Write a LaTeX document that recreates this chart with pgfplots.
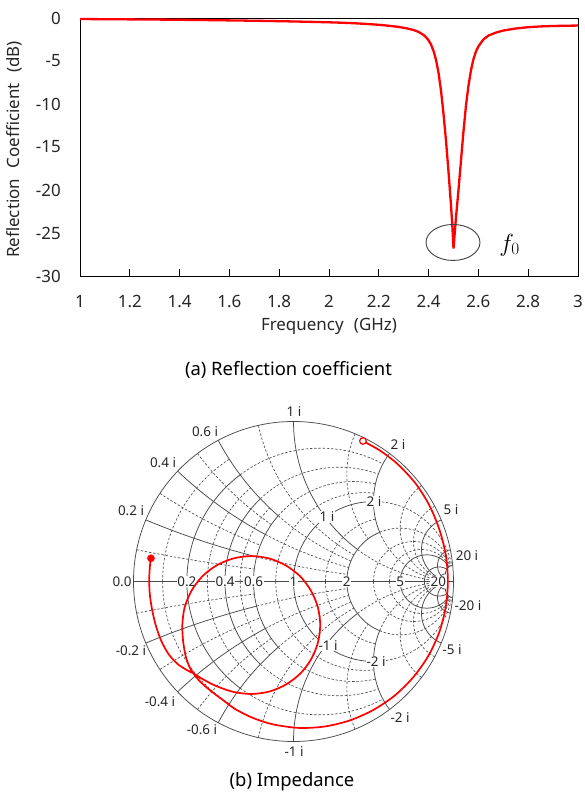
\documentclass[border=0pt]{standalone}
\usepackage{pgfplots}
\pgfplotsset{compat=1.18}
\usepackage{fontspec}
\setmainfont{Noto Sans}
\definecolor{txtc}{HTML}{262626}
\definecolor{gridc}{HTML}{4A4A4A}
\tikzset{
  declare function={thR(\a,\b)=180-2*atan(\b/(1+\a)); phX(\a,\b)=-90-2*atan(\a/(1+\b));},
  sld/.style={draw=gridc, line width=0.75bp},
  dsh/.style={draw=gridc, line width=0.65bp, dash pattern=on 2.4bp off 1.8bp},
}
% resistance circle r=#2, from reactance #3 to #4 (both signs)
\newcommand\rarc[4][]{%
  \draw[#1] plot[variable=\t,domain=0:1,samples=36]
   ({(#2+cos(thR(#2,#3)+\t*(thR(#2,#4)-thR(#2,#3))))/(1+#2)},
    {sin(thR(#2,#3)+\t*(thR(#2,#4)-thR(#2,#3)))/(1+#2)});
  \draw[#1] plot[variable=\t,domain=0:1,samples=36]
   ({(#2+cos(thR(#2,#3)+\t*(thR(#2,#4)-thR(#2,#3))))/(1+#2)},
    {-sin(thR(#2,#3)+\t*(thR(#2,#4)-thR(#2,#3)))/(1+#2)});
}
% reactance arc x=#2 (and -#2), from resistance #3 to #4
\newcommand\xarc[4][]{%
  \draw[#1] plot[variable=\t,domain=0:1,samples=36]
   ({1+cos(phX(#2,#3)+\t*(phX(#2,#4)-phX(#2,#3)))/#2},
    {(1+sin(phX(#2,#3)+\t*(phX(#2,#4)-phX(#2,#3))))/#2});
  \draw[#1] plot[variable=\t,domain=0:1,samples=36]
   ({1+cos(phX(#2,#3)+\t*(phX(#2,#4)-phX(#2,#3)))/#2},
    {-(1+sin(phX(#2,#3)+\t*(phX(#2,#4)-phX(#2,#3))))/#2});
}
\newcommand\smf{\fontsize{13.5}{15}\selectfont}
\newcommand\bigf{\fontsize{17}{20}\selectfont}

\pgfplotstableread{
f dB
1.00 -0.12
1.10 -0.14
1.20 -0.16
1.30 -0.18
1.40 -0.21
1.50 -0.24
1.60 -0.28
1.70 -0.32
1.80 -0.37
1.90 -0.43
2.00 -0.50
2.05 -0.55
2.10 -0.61
2.15 -0.69
2.20 -0.79
2.25 -0.93
2.28 -1.04
2.31 -1.19
2.34 -1.40
2.36 -1.62
2.38 -1.98
2.39 -2.25
2.40 -2.60
2.41 -3.10
2.42 -3.85
2.43 -4.90
2.44 -6.40
2.45 -8.50
2.46 -11.2
2.47 -14.3
2.48 -17.9
2.49 -21.8
2.495 -24.0
2.50 -26.8
2.505 -25.0
2.51 -23.2
2.52 -20.0
2.53 -16.6
2.54 -13.2
2.55 -10.2
2.56 -7.9
2.57 -6.1
2.58 -4.8
2.59 -3.9
2.60 -3.3
2.62 -2.5
2.64 -2.05
2.67 -1.70
2.70 -1.46
2.75 -1.22
2.80 -1.07
2.85 -0.98
2.90 -0.93
2.95 -0.90
3.00 -0.88
}\refltable

\pgfplotstableread{
gr gi
-0.891 0.145
-0.896 0.110
-0.900 0.060
-0.902 0.000
-0.898 -0.080
-0.885 -0.170
-0.862 -0.270
-0.827 -0.370
-0.780 -0.455
-0.725 -0.515
-0.668 -0.553
-0.626 -0.574
-0.568 -0.610
-0.484 -0.653
-0.376 -0.690
-0.264 -0.703
-0.152 -0.688
-0.049 -0.645
0.041 -0.577
0.109 -0.488
0.152 -0.384
0.167 -0.272
0.152 -0.160
0.109 -0.057
0.041 0.033
-0.049 0.101
-0.152 0.144
-0.264 0.159
-0.376 0.144
-0.480 0.101
-0.569 0.033
-0.637 -0.057
-0.680 -0.160
-0.695 -0.272
-0.690 -0.372
-0.675 -0.462
-0.652 -0.530
-0.626 -0.574
-0.595 -0.613
-0.555 -0.652
-0.505 -0.693
-0.445 -0.738
-0.360 -0.800
-0.248 -0.855
-0.127 -0.893
0.030 -0.915
0.190 -0.907
0.347 -0.870
0.495 -0.805
0.630 -0.715
0.746 -0.601
0.841 -0.468
0.910 -0.320
0.951 -0.162
0.965 0.000
0.952 0.163
0.913 0.321
0.850 0.474
0.762 0.614
0.648 0.736
0.541 0.818
0.434 0.878
}\smithtable

\begin{document}
\begin{tikzpicture}
\path[use as bounding box] (0,0) rectangle (585bp,803bp);

% ---------------- top: reflection coefficient ----------------
\begin{axis}[
  at={(80bp,527bp)}, anchor=south west,
  scale only axis, width=498bp, height=258bp,
  xmin=1, xmax=3, ymin=-30, ymax=0,
  xtick={1,1.2,1.4,1.6,1.8,2,2.2,2.4,2.6,2.8,3},
  xticklabels={1,1.2,1.4,1.6,1.8,2,2.2,2.4,2.6,2.8,3},
  ytick={-30,-25,-20,-15,-10,-5,0},
  yticklabels={-30,-25,-20,-15,-10,-5,0},
  xtick pos=lower, ytick pos=left,
  tick align=inside,
  major tick length=7bp,
  ytick style={draw=none},
  tick style={black, line width=0.8bp},
  axis line style={black, line width=0.8bp},
  xticklabel style={font=\bigf, text=txtc, anchor=base, yshift=-32bp, inner sep=0pt},
  yticklabel style={font=\bigf, text=txtc, anchor=east, xshift=-19bp, inner sep=0pt},
  xlabel={Frequency\hspace{0.35em} (GHz)},
  ylabel={Reflection\hspace{0.35em} Coefficient\hspace{0.35em} (dB)},
  xlabel style={font=\bigf, text=txtc, at={(axis description cs:0.5,-0.194)}, anchor=center},
  ylabel style={font=\bigf, text=txtc, at={(axis description cs:-0.131,0.49)}, anchor=center},
  clip=false,
]
\addplot[red, line width=2.3bp] table[x=f, y=dB] {\refltable};
\draw[black!75, line width=0.9bp] (axis cs:2.498,-26.1) ellipse [x radius=27bp, y radius=18bp];
\node[font=\fontsize{27}{30}\selectfont, text=black] at (axis cs:2.725,-26.4) {$f_0$};
\end{axis}

\node[font=\fontsize{18.5}{22}\selectfont, text=black] at (288.5bp,433bp) {(a) Reflection coefficient};

% ---------------- bottom: Smith chart grid ----------------
\begin{scope}[shift={(293.5bp,221.5bp)}, x=160bp, y=160bp]
  \foreach \v in {0.1,0.3,0.5} {\rarc[dsh]{\v}{0}{0.6}\xarc[dsh]{\v}{0}{0.6}}
  \foreach \v in {0.2,0.4,0.6} {\rarc[dsh]{\v}{0.6}{2}\xarc[dsh]{\v}{0.6}{2}}
  \foreach \v in {0.8,1.5} {\rarc[dsh]{\v}{0}{2}\xarc[dsh]{\v}{0}{2}}
  \foreach \v in {1,2} {\rarc[dsh]{\v}{2}{20}\xarc[dsh]{\v}{2}{20}}
  \foreach \v in {3,4} {\rarc[dsh]{\v}{0}{20}\xarc[dsh]{\v}{0}{20}}
  \foreach \v in {0.2,0.4,0.6} {\rarc[sld]{\v}{0}{0.6}\xarc[sld]{\v}{0}{0.6}}
  \foreach \v in {1,2} {\rarc[sld]{\v}{0}{2}\xarc[sld]{\v}{0}{2}}
  \foreach \v in {5,10,20} {\rarc[sld]{\v}{0}{20}\xarc[sld]{\v}{0}{20}}
  \draw[sld] (0,0) circle[radius=1];
  \draw[sld] (-1,0) -- (1,0);
\end{scope}

% real-axis labels
\begin{scope}[every node/.style={font=\smf, text=txtc, fill=white, inner sep=0.8bp}]
  \node[fill=none] at (122bp,221.5bp) {0.0};
  \node at (186.8bp,221.5bp) {0.2};
  \node at (225bp,221.5bp) {0.4};
  \node at (253.5bp,221.5bp) {0.6};
  \node at (293.5bp,221.5bp) {1};
  \node at (346.8bp,221.5bp) {2};
  \node at (400.2bp,221.5bp) {5};
  \node at (438.3bp,221.5bp) {20};
  % inner reactance labels
  \node at (327bp,286bp) {1 i};
  \node at (374bp,301.5bp) {2 i};
  \node at (328bp,157.5bp) {-1 i};
  \node at (376bp,141.5bp) {-2 i};
\end{scope}
% rim labels
\begin{scope}[every node/.style={font=\smf, text=txtc, inner sep=0.5bp}]
  \node at (294bp,391bp) {1 i};
  \node at (205bp,371bp) {0.6 i};
  \node at (163bp,340bp) {0.4 i};
  \node at (131bp,292bp) {0.2 i};
  \node at (131bp,152bp) {-0.2 i};
  \node at (160bp,101bp) {-0.4 i};
  \node at (202bp,73bp) {-0.6 i};
  \node at (294bp,51bp) {-1 i};
  \node at (398bp,358bp) {2 i};
  \node at (451bp,293bp) {5 i};
  \node at (467bp,247bp) {20 i};
  \node at (468bp,197bp) {-20 i};
  \node at (452bp,153bp) {-5 i};
  \node at (400bp,85bp) {-2 i};
\end{scope}

% Smith data
\begin{axis}[
  at={(293.5bp,221.5bp)}, anchor=center,
  scale only axis, width=320bp, height=320bp,
  xmin=-1, xmax=1, ymin=-1, ymax=1,
  hide axis, clip=false,
]
\addplot[red, line width=1.7bp, smooth, tension=0.5] table[x=gr, y=gi] {\smithtable};
\addplot[only marks, mark=*, mark size=3.6bp, red] coordinates {(-0.891,0.145)};
\addplot[only marks, mark=*, mark size=3.3bp, mark options={draw=red, fill=white, line width=1.2bp}] coordinates {(0.434,0.878)};
\end{axis}

\node[font=\fontsize{18.5}{22}\selectfont, text=black] at (292bp,21bp) {(b) Impedance};
\end{tikzpicture}
\end{document}
